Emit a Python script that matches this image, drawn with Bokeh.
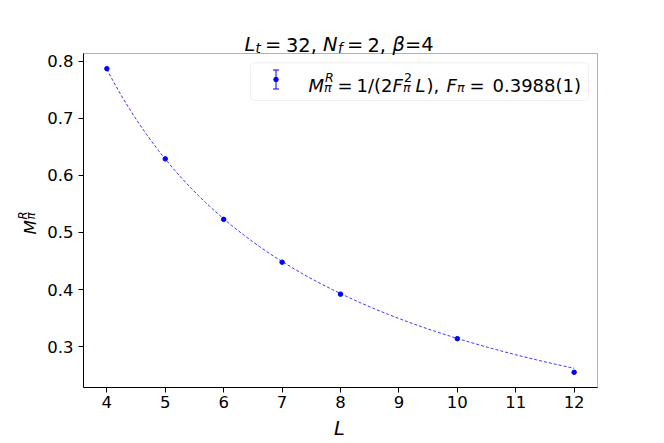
import numpy as np
from bokeh.plotting import figure
from bokeh.models import Range1d, FixedTicker, Label, BoxAnnotation
from bokeh.embed import file_html
from bokeh.resources import INLINE

# ---------------- data ----------------
L_vals = [4, 5, 6, 7, 8, 10, 12]
M_vals = [0.787, 0.629, 0.523, 0.448, 0.392, 0.314, 0.255]
F_pi = 0.3988          # fit parameter shown in the legend
x_ticks = [4, 5, 6, 7, 8, 9, 10, 11, 12]
x_tick_labels = ["4", "5", "6", "7", "8", "9", "10", "11", "12"]
y_ticks = [0.3, 0.4, 0.5, 0.6, 0.7, 0.8]
y_tick_labels = ["0.3", "0.4", "0.5", "0.6", "0.7", "0.8"]

# fit curve M = 1/(2 F^2 L)
L_fit = np.linspace(min(L_vals), max(L_vals), 200)
M_fit = 1.0 / (2.0 * F_pi ** 2 * L_fit)

# axes box limits with 5% margins (matplotlib style)
xpad = 0.05 * (max(L_vals) - min(L_vals))
ypad = 0.05 * (max(M_vals) - min(M_vals))
X0, X1 = min(L_vals) - xpad, max(L_vals) + xpad
Y0, Y1 = min(M_vals) - ypad, max(M_vals) + ypad

BLUE = "#0000ff"
FONT = "DejaVu Sans"
W, H = 664, 443
# pixel edges of the axes box on the canvas
FL, FR, FT, FB = 83, 597, 53, 387


def dx(px):
    return X0 + (px - FL) / (FR - FL) * (X1 - X0)


def dy(py):
    return Y0 + (FB - py) / (FB - FT) * (Y1 - Y0)


# the frame covers the whole canvas; axes are pinned to the box edges
p = figure(width=W, height=H, x_range=Range1d(dx(0), dx(W)), y_range=Range1d(dy(H), dy(0)),
           output_backend="svg", toolbar_location=None,
           min_border_left=0, min_border_right=0, min_border_top=0, min_border_bottom=0)
p.xgrid.visible = False
p.ygrid.visible = False
p.outline_line_color = None
p.background_fill_color = "white"
p.border_fill_color = "white"

for ax in (p.xaxis[0], p.yaxis[0]):
    ax.axis_line_color = "black"
    ax.axis_line_width = 1
    ax.major_tick_line_color = "black"
    ax.major_tick_out = 5
    ax.major_tick_in = 0
    ax.minor_tick_line_color = None
    ax.major_label_text_font = FONT
    ax.major_label_text_font_size = "16.5px"
    ax.major_label_text_color = "black"

p.xaxis.fixed_location = Y0
p.xaxis.bounds = (X0, X1)
p.xaxis.ticker = FixedTicker(ticks=x_ticks)
p.xaxis.major_label_overrides = dict(zip(x_ticks, x_tick_labels))
p.xaxis.major_label_standoff = 3
p.yaxis.fixed_location = X0
p.yaxis.bounds = (Y0, Y1)
p.yaxis.ticker = FixedTicker(ticks=y_ticks)
p.yaxis.major_label_overrides = dict(zip(y_ticks, y_tick_labels))
p.yaxis.major_label_standoff = 5

# axes box (spines)
p.add_layout(BoxAnnotation(left=X0, right=X1, bottom=Y0, top=Y1, fill_alpha=0,
                           line_color="black", line_width=1))

# fit line and data points
p.line(L_fit, M_fit, line_color=BLUE, line_width=0.8, line_dash="3 2")
p.scatter(L_vals, M_vals, size=4.5, marker="circle", fill_color=BLUE, line_color=BLUE)


def run(px, py, text, size, italic=False, angle=0.0, align="left"):
    p.add_layout(Label(x=dx(px), y=dy(py), text=text, text_font=FONT,
                       text_font_size=f"{size}px",
                       text_font_style="italic" if italic else "normal",
                       text_align=align, text_baseline="alphabetic",
                       text_color="black", angle=angle))


# ---- title: L_t = 32, N_f = 2, beta=4 ----
TS, TSS, TB = 19.4, 13.6, 44
run(244, TB, "L", TS, True)
run(255, TB + 3.5, "t", TSS, True)
run(264.5, TB, "=", TS)
run(285.5, TB, "32,", TS)
run(322.5, TB, "N", TS, True)
run(337.5, TB + 3.5, "f", TSS, True)
run(346.5, TB, "=", TS)
run(367, TB, "2,", TS)
run(392, TB, "β", TS, True)
run(404.5, TB, "=4", TS)

# ---- axis labels ----
run(339, 428, "L", 19.4, True, align="center")
YA = np.pi / 2
run(29, 234, "M", 16.7, True, angle=YA)
run(22.5, 219, "R", 11.7, True, angle=YA)
run(30.5, 219, "π", 11.7, True, angle=YA)

# ---- legend ----
p.add_layout(BoxAnnotation(left=dx(250), right=dx(588), top=dy(62.3), bottom=dy(100),
                           fill_color="white", fill_alpha=0.8, line_color="#cccccc",
                           line_width=1, border_radius=4))
kx = dx(275.5)
key_seg = p.segment(x0=[kx, dx(272.5), dx(272.5)], y0=[dy(69.5), dy(69.5), dy(88.5)],
                    x1=[kx, dx(278.5), dx(278.5)], y1=[dy(88.5), dy(69.5), dy(88.5)],
                    line_color=BLUE, line_width=1)
key_dot = p.scatter([kx], [dy(79)], size=4.5, marker="circle", fill_color=BLUE, line_color=BLUE)
key_seg.level = "overlay"
key_dot.level = "overlay"

LS, LSS, LB = 18, 12.6, 84.5
run(308, LB, "M", LS, True)
run(324.5, LB - 7.5, "R", LSS, True)
run(323.5, LB + 2.5, "π", LSS, True)
run(337, LB, "=", LS)
run(356, LB, "1/(2", LS)
run(392, LB, "F", LS, True)
run(403.5, LB - 7.5, "2", LSS)
run(402.5, LB + 2.5, "π", LSS, True)
run(415, LB, "L", LS, True)
run(426, LB, "),", LS)
run(446, LB, "F", LS, True)
run(456.5, LB + 2.5, "π", LSS, True)
run(469, LB, "=", LS)
run(492, LB, "0.3988(1)", LS)

open("out.html", "w").write(file_html(p, INLINE))
